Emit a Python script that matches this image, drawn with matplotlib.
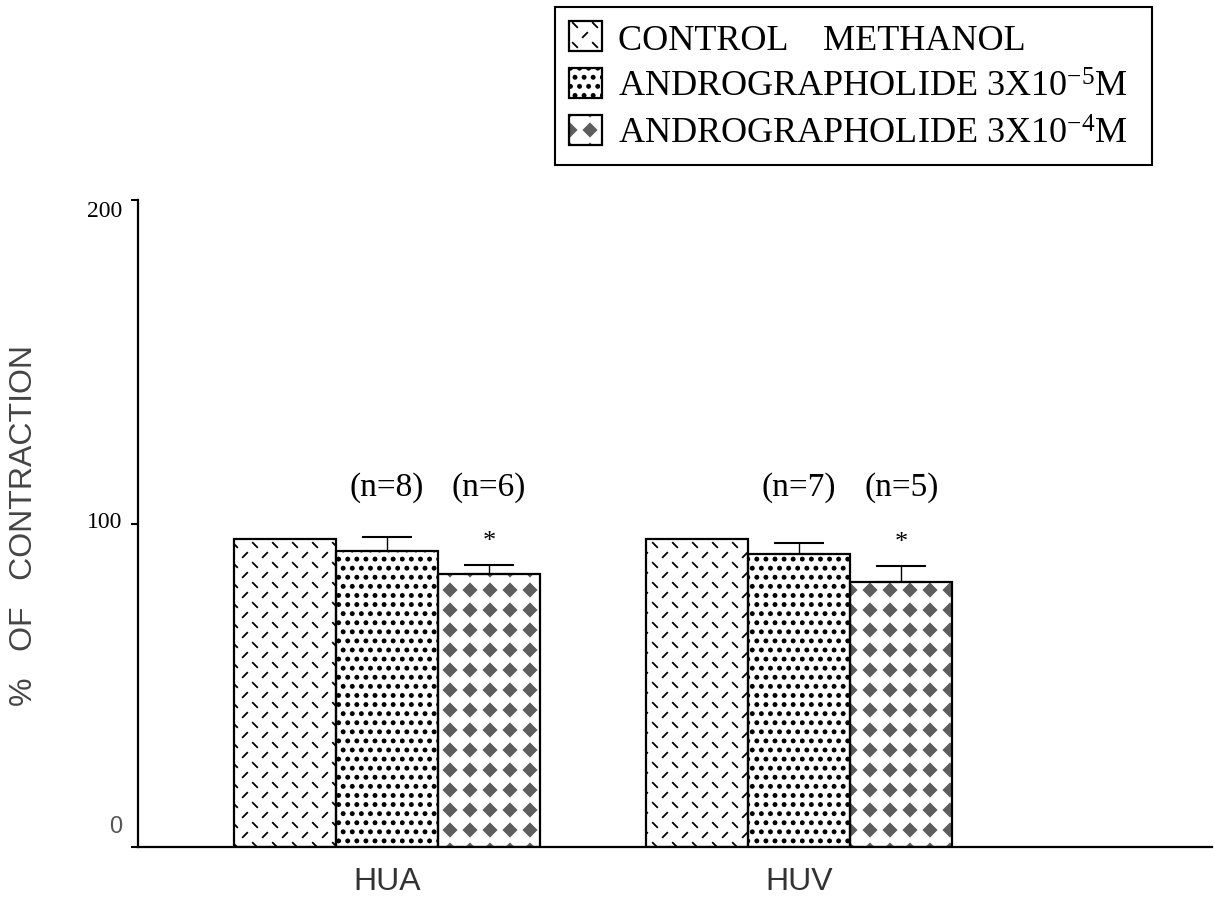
import numpy as np
import matplotlib
matplotlib.use('Agg')
import matplotlib.pyplot as plt
import matplotlib.hatch as mhatch
from matplotlib.path import Path
from matplotlib.patches import Patch
from matplotlib.transforms import ScaledTranslation

# data
groups = ['HUA', 'HUV']
series = ['CONTROL    METHANOL',
          'ANDROGRAPHOLIDE 3X10$^{-5}$M  ',
          'ANDROGRAPHOLIDE 3X10$^{-4}$M']
control = [95.2, 95.2]
andro_5 = [91.5, 90.6]
andro_4 = [84.4, 81.9]
err_5 = [4.3, 3.4]
err_4 = [2.8, 5.0]
n_5 = ['(n=8)', '(n=7)']
n_4 = ['(n=6)', '(n=5)']
yticks = [0, 100, 200]


# custom hatch patterns (unit cell), replacing 'x', '.' and 'O'
class DashHatch(mhatch.HatchPatternBase):
    def __init__(self, hatch, density):
        self.cols, self.rows = 5, 10
        self.num_vertices = 2 * self.cols * self.rows if 'x' in hatch else 0

    def set_vertices_and_codes(self, vertices, codes):
        d = 0.022
        i = 0
        for r in range(self.rows):
            s = 1 if r % 2 == 0 else -1
            for c in range(self.cols):
                cx = (c + 0.25 + 0.5 * (r % 2)) / self.cols
                cy = (r + 0.5) / self.rows
                vertices[i] = (cx - d, cy - s * d)
                vertices[i + 1] = (cx + d, cy + s * d)
                codes[i] = Path.MOVETO
                codes[i + 1] = Path.LINETO
                i += 2


class DotHatch(mhatch.HatchPatternBase):
    def __init__(self, hatch, density):
        self.n = 11
        self.shape = Path.unit_regular_polygon(8).vertices * 0.016
        self.num_vertices = self.n * self.n * 9 if '.' in hatch else 0

    def set_vertices_and_codes(self, vertices, codes):
        i = 0
        for r in range(self.n):
            for c in range(self.n):
                cx = (c + 0.25 + 0.5 * (r % 2)) / self.n
                cy = (r + 0.5) / self.n
                vertices[i:i + 9] = self.shape + (cx, cy)
                codes[i:i + 9] = Path.LINETO
                codes[i] = Path.MOVETO
                codes[i + 8] = Path.CLOSEPOLY
                i += 9


class DiamondHatch(mhatch.HatchPatternBase):
    def __init__(self, hatch, density):
        self.n = 5
        self.num_vertices = self.n * self.n * 5 if 'O' in hatch else 0

    def set_vertices_and_codes(self, vertices, codes):
        h = 0.063
        shape = np.array([(0, -h), (h, 0), (0, h), (-h, 0), (0, -h)])
        i = 0
        for r in range(self.n):
            for c in range(self.n):
                cx = (c + 0.5) / self.n
                cy = (r + 0.5) / self.n
                vertices[i:i + 5] = shape + (cx, cy)
                codes[i:i + 5] = [Path.MOVETO, Path.LINETO, Path.LINETO,
                                  Path.LINETO, Path.CLOSEPOLY]
                i += 5


mhatch._hatch_types = [DashHatch, DotHatch, DiamondHatch]

plt.rcParams['hatch.linewidth'] = 1.3
plt.rcParams['mathtext.fontset'] = 'custom'
plt.rcParams['mathtext.rm'] = 'Liberation Serif'
plt.rcParams['mathtext.default'] = 'rm'

fig = plt.figure(figsize=(12.15, 9.04), dpi=100)
ax = fig.add_axes([138 / 1215, 56 / 904, 1074 / 1215, 647 / 904])

x = np.arange(len(groups))
w = 0.248
values = [control, andro_5, andro_4]
offsets = [-w, 0, w]
hatches = ['x', '.', 'O']
hcolors = ['black', 'black', '#5e5e5e']

for vals, off, h, hc in zip(values, offsets, hatches, hcolors):
    ax.bar(x + off, vals, w, color='white', edgecolor=hc, linewidth=0,
           hatch=h, zorder=2)
    ax.bar(x + off, vals, w, fill=False, edgecolor='black', linewidth=1.6,
           zorder=3)

ax.errorbar(x, andro_5, yerr=[np.zeros(2), err_5], fmt='none', ecolor='black',
            elinewidth=1.0, capsize=18, capthick=1.5, zorder=4)
ax.errorbar(x + w, andro_4, yerr=[np.zeros(2), err_4], fmt='none',
            ecolor='black', elinewidth=1.0, capsize=18, capthick=1.5, zorder=4)

for i in range(len(groups)):
    ax.annotate('*', (x[i] + w, andro_4[i] + err_4[i]), xytext=(0, 17),
                textcoords='offset points', ha='center', va='center',
                fontsize=19, family='Liberation Serif')
    ax.text(x[i], 111.3, n_5[i], ha='center', va='center', fontsize=24,
            family='Liberation Serif')
    ax.text(x[i] + w, 111.3, n_4[i], ha='center', va='center', fontsize=24,
            family='Liberation Serif')

ax.set_xlim(-0.604, 2.002)
ax.set_ylim(0, 200)
for side in ['top', 'right']:
    ax.spines[side].set_visible(False)
ax.spines['left'].set_linewidth(1.6)
ax.spines['bottom'].set_linewidth(1.6)

ax.set_xticks(x)
ax.set_xticklabels(groups, fontsize=23, family='Liberation Sans', color='#333333')
ax.tick_params(axis='x', length=0, pad=14)

ax.set_yticks(yticks)
ax.set_yticklabels([str(v) for v in yticks], fontsize=17, family='Liberation Serif')
ax.tick_params(axis='y', length=5, width=1.5, pad=6)
ylab = ax.get_yticklabels()
ylab[0].set_family('Liberation Sans')
ylab[0].set_color('#555555')
for lab, dy in zip(ylab, [23, 5, -8]):
    lab.set_transform(lab.get_transform() + ScaledTranslation(0, dy / 100, fig.dpi_scale_trans))

fig.text(24 / 1215, 1 - 525 / 904, '%   OF   CONTRACTION', rotation=90,
         ha='center', va='center', family='Liberation Sans', size=23,
         color='#444444')

handles = [(Patch(facecolor='white', edgecolor=hc, linewidth=0, hatch=h),
            Patch(fill=False, edgecolor='black', linewidth=1.6))
           for h, hc in zip(hatches, hcolors)]
leg = fig.legend(handles, series, loc='upper left',
                 bbox_to_anchor=(555 / 1215, 1 - 8 / 904), frameon=True,
                 fancybox=False, edgecolor='black', framealpha=1,
                 prop={'family': 'Liberation Serif', 'size': 26},
                 handlelength=0.9, handleheight=0.9, handletextpad=0.45,
                 labelspacing=0.32, borderpad=0.4, borderaxespad=0)
leg.get_frame().set_linewidth(1.5)

fig.savefig('out.png', dpi=100)
